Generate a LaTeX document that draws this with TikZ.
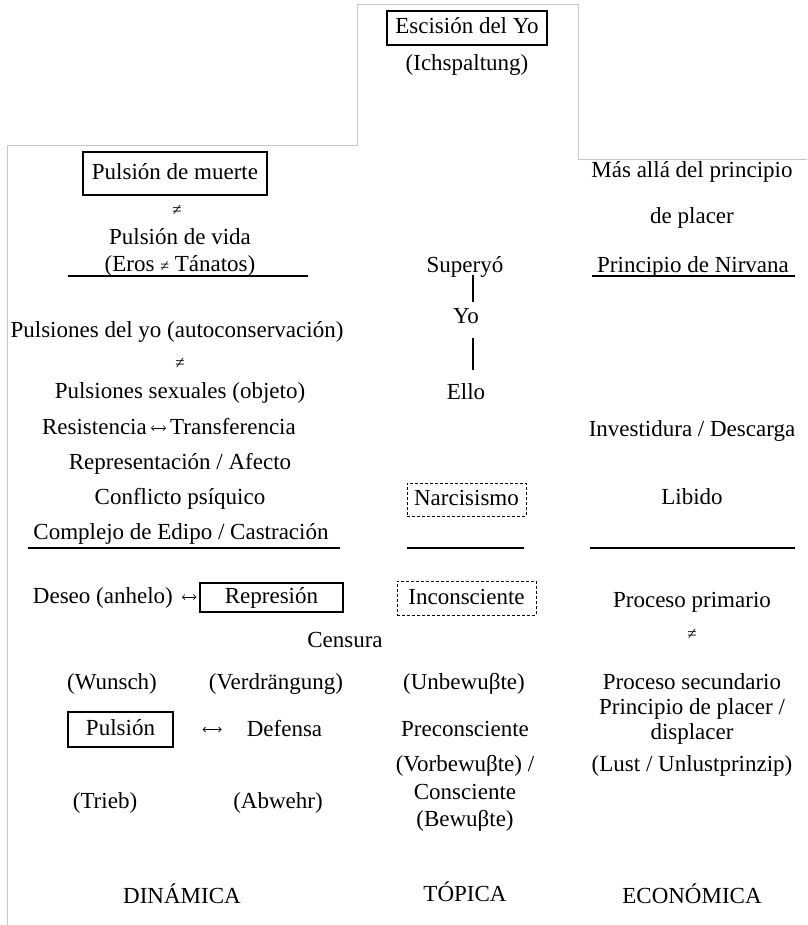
\documentclass[tikz,border=0pt]{standalone}
\usepackage{fontspec}
\usetikzlibrary{arrows.meta}
\setmainfont{Liberation Serif}
\newcommand\smneq{{\fontsize{16}{16}\selectfont ≠}}
\begin{document}
\begin{tikzpicture}[x=1pt,y=-1pt,
  t/.style={inner sep=0pt,anchor=center,text height=16pt,text depth=4pt,font=\fontsize{23}{27}\selectfont},
  sym/.style={inner sep=0pt,anchor=center,font=\fontsize{17}{17}\selectfont},
  bx/.style={t,draw=black,line width=1.1pt,minimum width=#1},
  dbx/.style={t,draw=black,line width=0.9pt,dash pattern=on 3pt off 2pt,minimum width=#1},
  rule/.style={line width=1.1pt,black},
  frame/.style={line width=0.8pt,black!22},
  link/.style={line width=1.3pt,black},
  dbl/.style={line width=0.7pt,{Straight Barb[length=2.5pt,width=5pt]}-{Straight Barb[length=2.5pt,width=5pt]}}]
\useasboundingbox (0,0) rectangle (807,925);
% outline
\draw[frame] (7,925) -- (7,145) -- (357,145) -- (357,4) -- (578,4) -- (578,159) -- (807,159);
% top
\node[bx=160pt,minimum height=34pt] (esc) at (467,28) {Escisión del Yo};
\node[t] (ich) at (467,64.5) {(Ichspaltung)};
% left column
\node[bx=184pt,minimum height=43pt] (pm) at (175,173.5) {Pulsión de muerte};
\node[sym] (ne1) at (177,210) {≠};
\node[t] (pv) at (180,238) {Pulsión de vida};
\node[t] (eros) at (180,265) {(Eros \smneq{} Tánatos)};
\draw[rule] (68,276) -- (308,276);
\node[t] (pyo) at (177,331) {Pulsiones del yo (autoconservación)};
\node[sym] (ne2) at (180,363) {≠};
\node[t] (psex) at (180,392) {Pulsiones sexuales (objeto)};
\node[t,anchor=east] (res) at (147,428) {Resistencia};
\node[t,anchor=west] (trans) at (170,428) {Transferencia};
\draw[dbl,shorten <=4pt,shorten >=4pt] (res.east) -- (trans.west);
\node[t] (rep) at (180,463) {Representación / Afecto};
\node[t] (conf) at (180,498) {Conflicto psíquico};
\node[t] (edipo) at (181,533) {Complejo de Edipo / Castración};
\draw[rule] (28,548) -- (340,548);
\node[t,anchor=east] (deseo) at (173,597) {Deseo (anhelo)};
\node[bx=143pt,minimum height=29pt] (repr) at (271.5,597.5) {Represión};
\draw[dbl,shorten <=9pt,shorten >=3pt] (deseo.east) -- (deseo.east -| repr.west);
\node[t] (cens) at (345,641) {Censura};
\node[t] (wun) at (112,683) {(Wunsch)};
\node[t] (verd) at (276,683) {(Verdrängung)};
\node[bx=105pt,minimum height=35pt] (puls) at (120.5,729.5) {Pulsión};
\node[t] (def) at (284.5,730) {Defensa};
\draw[dbl,shorten <=29pt,shorten >=25pt] (puls.east) -- (puls.east -| def.west);
\node[t] (trieb) at (105,802) {(Trieb)};
\node[t] (abw) at (278,802) {(Abwehr)};
\node[t] (din) at (182,897) {DINÁMICA};
% middle column
\node[t] (sup) at (465,266) {Superyó};
\node[t] (yo) at (466,317) {Yo};
\node[t] (ello) at (466,393) {Ello};
\draw[link,shorten <=-1pt,shorten >=4.5pt] (sup.south -| 473,0) -- (yo.north -| 473,0);
\draw[link,shorten <=10.5pt,shorten >=12.5pt] (yo.south -| 473,0) -- (ello.north -| 473,0);
\node[dbx=119pt,minimum height=33pt] (narc) at (466.5,499.5) {Narcisismo};
\draw[rule] (407,548) -- (524,548);
\node[dbx=139pt,minimum height=34pt] (incon) at (466.5,598) {Inconsciente};
\node[t] (unb) at (464,683) {(Unbewuβte)};
\node[t] (prec) at (465,730) {Preconsciente};
\node[t] (vorb) at (465,765) {(Vorbewuβte) /};
\node[t] (cons) at (465,793) {Consciente};
\node[t] (bew) at (465,820) {(Bewuβte)};
\node[t] (top) at (465,895) {TÓPICA};
% right column
\node[t] (mas) at (692,172) {Más allá del principio};
\node[t] (dpl) at (692,217) {de placer};
\node[t] (nirv) at (693,266) {Principio de Nirvana};
\draw[rule] (592,276) -- (795,276);
\node[t] (inv) at (692,430) {Investidura / Descarga};
\node[t] (lib) at (692,498) {Libido};
\draw[rule] (590,548) -- (795,548);
\node[t] (pp) at (692,601) {Proceso primario};
\node[sym] (ne3) at (692,634) {≠};
\node[t] (ps) at (692,683) {Proceso secundario};
\node[t] (ppl) at (692,708) {Principio de placer /};
\node[t] (dis) at (692,733) {displacer};
\node[t] (lust) at (692,765) {(Lust / Unlustprinzip)};
\node[t] (eco) at (692,897) {ECONÓMICA};
\end{tikzpicture}
\end{document}
